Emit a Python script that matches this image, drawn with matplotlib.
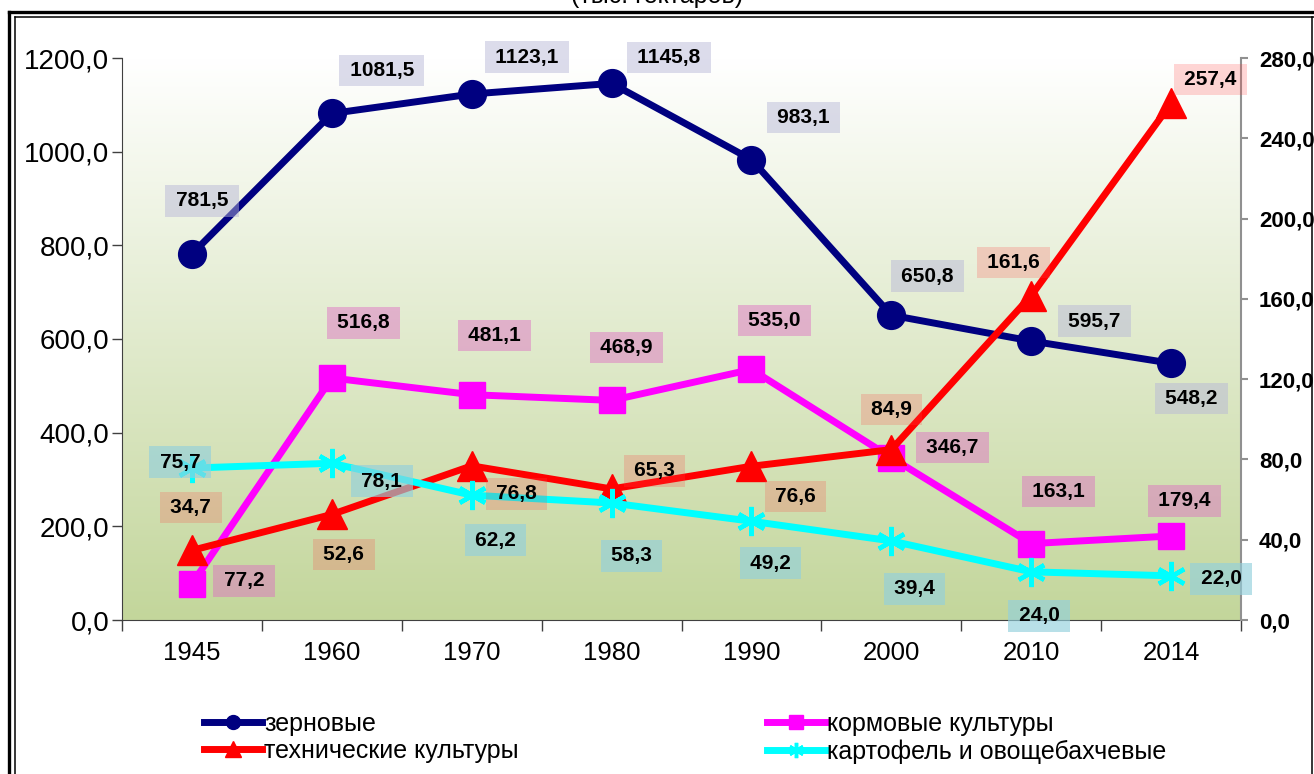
import numpy as np
import matplotlib
matplotlib.use('Agg')
import matplotlib.pyplot as plt
from matplotlib.lines import Line2D
from matplotlib.colors import LinearSegmentedColormap

# ---------------- data ----------------
years = ['1945', '1960', '1970', '1980', '1990', '2000', '2010', '2014']
grain = [781.5, 1081.5, 1123.1, 1145.8, 983.1, 650.8, 595.7, 548.2]
fodder = [77.2, 516.8, 481.1, 468.9, 535.0, 346.7, 163.1, 179.4]
industrial = [34.7, 52.6, 76.8, 65.3, 76.6, 84.9, 161.6, 257.4]
potato = [75.7, 78.1, 62.2, 58.3, 49.2, 39.4, 24.0, 22.0]
names = ['зерновые', 'кормовые культуры', 'технические культуры',
         'картофель и овощебахчевые']
left_ticks = [0, 200, 400, 600, 800, 1000, 1200]
right_ticks = [0, 40, 80, 120, 160, 200, 240, 280]
title = '(тыс. гектаров)'

# label offsets in pixels (dx, dy up)
grain_off = [(10, 53), (50, 43), (55, 37), (57, 26), (52, 42), (36, 39), (63, 20), (20, -35)]
fodder_off = [(52, 3), (32, 55), (23, 59), (15, 53), (23, 49), (61, 10), (27, 52), (13, 35)]
ind_off = [(-1, 43), (12, -40), (45, -28), (43, 18), (44, -30), (0, 40), (-18, 33), (39, 24)]
pot_off = [(-12, 6), (50, -18), (24, -45), (20, -53), (19, -42), (23, -48), (8, -44), (50, -3)]

plt.rcParams['font.family'] = ['Liberation Sans', 'DejaVu Sans']

W, H = 1314, 774
fig = plt.figure(figsize=(W / 100, H / 100), dpi=100)
fig.patch.set_facecolor('white')

def fx(px):
    return px / W

def fy(py):
    return 1 - py / H

ax = fig.add_axes([fx(122), fy(620), fx(1241) - fx(122), fy(58) - fy(620)])
ax2 = ax.twinx()

x = np.arange(len(years))
fmt = lambda v: f'{v:.1f}'.replace('.', ',')

# gradient background
cmap = LinearSegmentedColormap.from_list('g', ['#c3d69b', '#ffffff'])
grad = np.linspace(0, 1, 256).reshape(-1, 1)
ax.imshow(grad, cmap=cmap, extent=[0, 1, 0, 1], transform=ax.transAxes,
          aspect='auto', origin='lower', zorder=0)

navy, mag, red, cyan = '#000080', '#ff00ff', '#ff0000', '#00ffff'
lw = 5
ax.plot(x, grain, color=navy, lw=lw, marker='o', ms=20, zorder=3)
ax.plot(x, fodder, color=mag, lw=lw, marker='s', ms=19, zorder=3)
ax2.plot(x, industrial, color=red, lw=lw, marker='^', ms=21, zorder=3)
ax2.plot(x, potato, color=cyan, lw=lw, marker=(6, 2, 0), ms=21, mew=3.2, zorder=4)

ax.set_xlim(-0.5, len(years) - 0.5)
ax.set_ylim(0, 1200)
ax2.set_ylim(0, 280)

ax.set_yticks(left_ticks)
ax.set_yticklabels([fmt(v) for v in left_ticks], fontsize=20)
ax2.set_yticks(right_ticks)
ax2.set_yticklabels([fmt(v) for v in right_ticks], fontsize=16, fontweight='bold')

ax.set_xticks(x)
ax.set_xticklabels(years, fontsize=18.5)
ax.set_xticks(np.arange(-0.5, len(years), 1.0), minor=True)
ax.tick_params(axis='x', which='major', length=0, pad=15)
ax.tick_params(axis='x', which='minor', length=8, color='#404040', width=1)
ax.tick_params(axis='y', length=7, color='#404040', width=1, pad=2)
ax2.tick_params(axis='y', length=5, color='#909090', width=1.5, pad=8)

for a in (ax, ax2):
    a.spines['top'].set_visible(False)
    a.patch.set_visible(False)
ax.spines['right'].set_visible(False)
ax.spines['left'].set_color('#404040')
ax.spines['bottom'].set_color('#404040')
ax2.spines['left'].set_visible(False)
ax2.spines['bottom'].set_visible(False)
ax2.spines['right'].set_color('#909090')
ax2.spines['right'].set_linewidth(1.5)

# data labels
def labels(vals, offs, color, alpha, trans):
    for i, (v, (dx, dy)) in enumerate(zip(vals, offs)):
        ax2.annotate('\u2009' + fmt(v) + '\u2009', xy=(i, v), xycoords=trans,
                     xytext=(dx, dy), textcoords='offset pixels',
                     ha='center', va='center',
                     fontsize=15, fontweight='bold', color='black',
                     annotation_clip=False, zorder=10,
                     bbox=dict(boxstyle='square,pad=0.3', fc=color, alpha=alpha, ec='none'))

labels(grain, grain_off, (182/255, 182/255, 215/255), 0.48, ax.transData)
labels(fodder, fodder_off, (222/255, 106/255, 195/255), 0.45, ax.transData)
labels(industrial, ind_off, (1.0, 69/255, 69/255), 0.22, ax2.transData)
labels(potato, pot_off, (147/255, 208/255, 220/255), 0.65, ax2.transData)

# legend
h = [Line2D([], [], color=navy, lw=5, marker='o', ms=10),
     Line2D([], [], color=mag, lw=5, marker='s', ms=10),
     Line2D([], [], color=red, lw=5, marker='^', ms=11),
     Line2D([], [], color=cyan, lw=5, marker=(6, 2, 0), ms=11, mew=2.5)]
common = dict(frameon=False, fontsize=18, handlelength=2.3, handletextpad=0.1,
              borderpad=0, borderaxespad=0, labelspacing=0.12, loc='upper left')
fig.legend([h[0], h[2]], [names[0], names[2]], bbox_to_anchor=(fx(204), fy(712)), **common)
fig.legend([h[1], h[3]], [names[1], names[3]], bbox_to_anchor=(fx(767), fy(712)), **common)

# title (cut off at top, as in the source)
fig.text(fx(657), fy(3), title, ha='center', va='baseline', fontsize=18)

# double border
for (xl, yt, lwp) in [(9, 12, 2.4), (14.5, 17, 1.1)]:
    fig.add_artist(Line2D([fx(xl), fx(xl)], [fy(yt), -0.1], color='black', lw=lwp,
                          transform=fig.transFigure))
    fig.add_artist(Line2D([fx(xl), 1.1], [fy(yt), fy(yt)], color='black', lw=lwp,
                          transform=fig.transFigure))
    xr = 1317 if xl < 10 else 1312
    fig.add_artist(Line2D([fx(xr), fx(xr)], [fy(yt), -0.1], color='black', lw=lwp,
                          transform=fig.transFigure))

fig.savefig('out.png', dpi=100)
